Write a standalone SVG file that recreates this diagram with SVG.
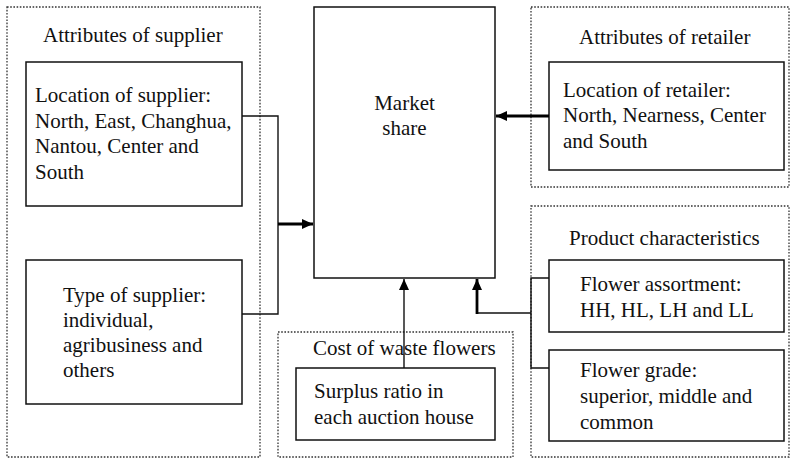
<svg xmlns="http://www.w3.org/2000/svg" width="791" height="459" viewBox="0 0 791 459">
<style>
text{font-family:"Liberation Serif","Times New Roman",serif;font-size:21px;fill:#111}
.grp{fill:none;stroke:#333;stroke-width:1.3;stroke-dasharray:1.6 1.6}
.box{fill:#fff;stroke:#111;stroke-width:1.5}
.thin{fill:none;stroke:#111;stroke-width:1.4}
.thick{fill:none;stroke:#000;stroke-width:2.8}
</style>
<defs>
<marker id="ah" markerUnits="userSpaceOnUse" markerWidth="12" markerHeight="12" viewBox="0 0 12 12" refX="11" refY="6" orient="auto">
<path d="M0,1 L11,6 L0,11 Z" fill="#000"/>
</marker>
</defs>
<g id="supplier-group">
<rect class="grp" x="7" y="7" width="253" height="450"/>
<text x="43" y="42">Attributes of supplier</text>
</g>
<g id="location-supplier">
<rect class="box" x="26" y="62" width="216" height="144"/>
<text x="35" y="102">Location of supplier:</text>
<text x="35" y="128">North, East, Changhua,</text>
<text x="35" y="153">Nantou, Center and</text>
<text x="35" y="179">South</text>
</g>
<g id="type-supplier">
<rect class="box" x="26" y="260" width="216" height="144"/>
<text x="63" y="302">Type of supplier:</text>
<text x="63" y="327">individual,</text>
<text x="63" y="352">agribusiness and</text>
<text x="63" y="377">others</text>
</g>
<g id="market-share">
<rect class="box" x="314" y="7" width="181" height="271"/>
<text x="404.5" y="110" text-anchor="middle">Market</text>
<text x="404.5" y="135" text-anchor="middle">share</text>
</g>
<g id="retailer-group">
<rect class="grp" x="531" y="7" width="258" height="180"/>
<text x="579" y="44">Attributes of retailer</text>
</g>
<g id="location-retailer">
<rect class="box" x="549" y="62" width="235" height="108"/>
<text x="563" y="97">Location of retailer:</text>
<text x="563" y="122">North, Nearness, Center</text>
<text x="563" y="148">and South</text>
</g>
<g id="product-group">
<rect class="grp" x="531" y="206" width="258" height="251"/>
<text x="569" y="245">Product characteristics</text>
</g>
<g id="flower-assortment">
<rect class="box" x="549" y="260" width="235" height="72"/>
<text x="580" y="291">Flower assortment:</text>
<text x="580" y="317">HH, HL, LH and LL</text>
</g>
<g id="flower-grade">
<rect class="box" x="549" y="350" width="235" height="91"/>
<text x="580" y="377">Flower grade:</text>
<text x="580" y="403">superior, middle and</text>
<text x="580" y="429">common</text>
</g>
<g id="cost-group">
<rect class="grp" x="278" y="332" width="235" height="125"/>
<text x="313" y="355">Cost of waste flowers</text>
</g>
<g id="surplus-ratio">
<rect class="box" x="296" y="368" width="199" height="72"/>
<text x="314" y="398">Surplus ratio in</text>
<text x="314" y="424">each auction house</text>
</g>
<g id="connectors">
<polyline class="thin" points="242,116 278,116 278,314 242,314"/>
<line class="thick" x1="278" y1="224" x2="313" y2="224" marker-end="url(#ah)"/>
<line class="thick" x1="549" y1="116" x2="496" y2="116" marker-end="url(#ah)"/>
<line class="thin" x1="404" y1="368" x2="404" y2="279" marker-end="url(#ah)"/>
<polyline class="thin" points="531,313 477,313"/>
<line class="thick" x1="477" y1="314" x2="477" y2="279" marker-end="url(#ah)"/>
<polyline class="thin" points="549,278 531,278 531,368 549,368"/>
</g>
</svg>
